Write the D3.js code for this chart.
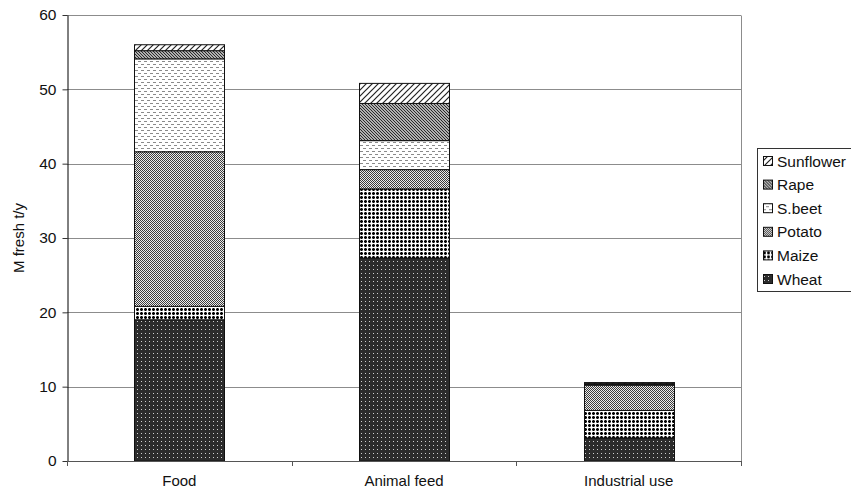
<!DOCTYPE html>
<html><head><meta charset="utf-8">
<script src="https://cdn.jsdelivr.net/npm/d3@7"></script>
<style>body{margin:0;background:#fff}svg{display:block;font-family:"Liberation Sans",Arial,sans-serif}</style>
</head><body><div id="chart"></div>
<script>
const categories = ["Food", "Animal feed", "Industrial use"];
const seriesNames = ["Wheat", "Maize", "Potato", "S.beet", "Rape", "Sunflower"];
const wheat     = [19.0, 27.3, 3.1];
const maize     = [1.8, 9.3, 3.7];
const potato    = [20.8, 2.6, 3.4];
const sbeet     = [12.5, 3.9, 0.1];
const rape      = [1.1, 5.0, 0.15];
const sunflower = [0.8, 2.7, 0.1];
const yTicks = [0, 10, 20, 30, 40, 50, 60];
const yTitle = "M fresh t/y";

const seriesValues = {Wheat: wheat, Maize: maize, Potato: potato, "S.beet": sbeet, Rape: rape, Sunflower: sunflower};
const rows = categories.map((c, i) => {
  const r = {category: c};
  seriesNames.forEach(s => r[s] = seriesValues[s][i]);
  return r;
});
const pid = k => "p-" + k.replace(/[^A-Za-z]/g, "");

const W = 851, H = 495;
const mLeft = 67, mRight = 741, mTop = 15, mBottom = 461;
const svg = d3.select("#chart").append("svg").attr("width", W).attr("height", H);
const defs = svg.append("defs");

function pat(id, w, h, build) {
  const p = defs.append("pattern").attr("id", id).attr("patternUnits", "userSpaceOnUse")
    .attr("width", w).attr("height", h);
  build(p);
}
pat(pid("Wheat"), 4, 4, p => {
  p.append("rect").attr("width", 4).attr("height", 4).attr("fill", "#2c2c2c");
  p.append("rect").attr("x", 1).attr("y", 1).attr("width", 1).attr("height", 1).attr("fill", "#d0d0d0");
});
pat(pid("Maize"), 4, 4, p => {
  p.append("rect").attr("width", 4).attr("height", 4).attr("fill", "#fff");
  p.append("rect").attr("x", 0).attr("y", 0).attr("width", 3).attr("height", 3).attr("fill", "#777");
  p.append("rect").attr("x", 1).attr("y", 0).attr("width", 1).attr("height", 3).attr("fill", "#000");
  p.append("rect").attr("x", 0).attr("y", 1).attr("width", 3).attr("height", 1).attr("fill", "#000");
});
pat(pid("Potato"), 2, 2, p => {
  p.append("rect").attr("width", 2).attr("height", 2).attr("fill", "#ececec");
  p.append("rect").attr("x", 0).attr("y", 0).attr("width", 1).attr("height", 1).attr("fill", "#3c3c3c");
  p.append("rect").attr("x", 1).attr("y", 1).attr("width", 1).attr("height", 1).attr("fill", "#3c3c3c");
});
pat(pid("S.beet"), 6, 6, p => {
  p.append("rect").attr("width", 6).attr("height", 6).attr("fill", "#fff");
  p.append("rect").attr("x", 0).attr("y", 1).attr("width", 3).attr("height", 1).attr("fill", "#8a8a8a");
  p.append("rect").attr("x", 3).attr("y", 4).attr("width", 3).attr("height", 1).attr("fill", "#8a8a8a");
});
pat(pid("Rape"), 3, 3, p => {
  p.append("rect").attr("width", 3).attr("height", 3).attr("fill", "#b0b0b0");
  p.append("path").attr("d", "M0,0L3,3M-1,2L1,4M2,-1L4,1").attr("stroke", "#2a2a2a").attr("stroke-width", 1);
});
pat(pid("Sunflower"), 6, 6, p => {
  p.append("rect").attr("width", 6).attr("height", 6).attr("fill", "#fff");
  p.append("path").attr("d", "M0,6L6,0M-1,1L1,-1M5,7L7,5").attr("stroke", "#222").attr("stroke-width", 1.2);
});

const x = d3.scaleBand().domain(categories).range([mLeft, mRight]).paddingInner(0.6).paddingOuter(0.3);
const xb = d3.scaleBand().domain(categories).range([mLeft, mRight]).padding(0);
const y = d3.scaleLinear().domain([0, 60]).range([mBottom, mTop]);

// gridlines
svg.append("g").selectAll("line").data(yTicks.filter(t => t > 0)).join("line")
  .attr("x1", mLeft).attr("x2", mRight)
  .attr("y1", d => Math.round(y(d)) + 0.5).attr("y2", d => Math.round(y(d)) + 0.5)
  .attr("stroke", "#8c8c8c").attr("stroke-width", 1);
// right border
svg.append("line").attr("x1", mRight + 0.5).attr("x2", mRight + 0.5)
  .attr("y1", Math.round(y(60)) + 0.5).attr("y2", mBottom)
  .attr("stroke", "#8c8c8c");

// bars
const stack = d3.stack().keys(seriesNames)(rows);
svg.append("g").selectAll("g").data(stack).join("g")
  .attr("fill", d => `url(#${pid(d.key)})`)
  .selectAll("rect").data(d => d).join("rect")
  .attr("x", d => Math.round(x(d.data.category)) + 0.5)
  .attr("width", Math.round(x.bandwidth()))
  .attr("y", d => y(d[1]))
  .attr("height", d => y(d[0]) - y(d[1]))
  .attr("stroke", "#111").attr("stroke-width", 1);

// y axis
const ya = svg.append("g").attr("transform", `translate(${mLeft + 0.5},0)`)
  .call(d3.axisLeft(y).tickValues(yTicks).tickSize(5).tickPadding(6).tickSizeOuter(0));
ya.select(".domain").attr("stroke", "#000");
ya.selectAll("text").attr("font-size", 15.5).attr("fill", "#111")
  .attr("font-family", "Liberation Sans, Arial, sans-serif");
ya.selectAll(".tick line").attr("stroke", "#333");

// x axis
svg.append("line").attr("x1", mLeft).attr("x2", mRight + 1)
  .attr("y1", mBottom + 0.5).attr("y2", mBottom + 0.5).attr("stroke", "#555");
const bounds = categories.map(c => xb(c)).concat([xb(categories[categories.length - 1]) + xb.bandwidth()]);
svg.append("g").selectAll("line").data(bounds).join("line")
  .attr("x1", d => Math.round(d) + 0.5).attr("x2", d => Math.round(d) + 0.5)
  .attr("y1", mBottom).attr("y2", mBottom + 5).attr("stroke", "#555");
const xa = svg.append("g").attr("transform", `translate(0,${mBottom})`)
  .call(d3.axisBottom(xb).tickSize(0).tickPadding(14));
xa.select(".domain").remove();
xa.selectAll("text").attr("font-size", 15).attr("fill", "#111")
  .attr("font-family", "Liberation Sans, Arial, sans-serif");

// y title
svg.append("text").attr("transform", `translate(24,${(mTop + mBottom) / 2}) rotate(-90)`)
  .attr("text-anchor", "middle").attr("font-size", 15).attr("fill", "#111").text(yTitle);

// legend
const lg = svg.append("g");
lg.append("rect").attr("x", 757.5).attr("y", 148.5).attr("width", 120).attr("height", 143)
  .attr("fill", "#fff").attr("stroke", "#333");
const legendOrder = seriesNames.slice().reverse();
const ly = d3.scalePoint().domain(legendOrder).range([161, 279]);
const li = lg.selectAll("g").data(legendOrder).join("g")
  .attr("transform", d => `translate(763,${ly(d)})`);
li.append("rect").attr("x", 0.5).attr("y", -4.5).attr("width", 9).attr("height", 9)
  .attr("fill", d => `url(#${pid(d)})`).attr("stroke", "#111");
li.append("text").attr("x", 14).attr("y", 5.5).attr("font-size", 15.5).attr("fill", "#111").text(d => d);
</script></body></html>
